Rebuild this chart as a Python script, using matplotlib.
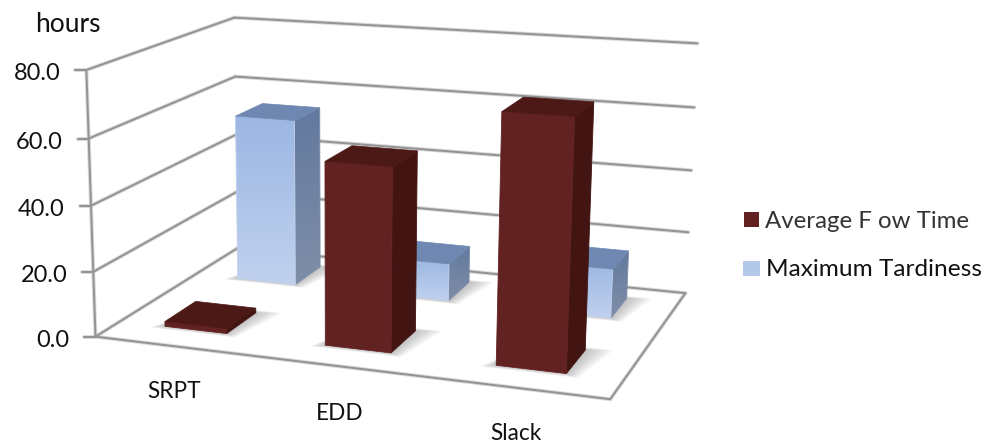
import numpy as np
import matplotlib
matplotlib.use("Agg")
import matplotlib.pyplot as plt
from matplotlib.colors import LinearSegmentedColormap
from matplotlib.patches import Polygon, Rectangle

categories = ["SRPT", "EDD", "Slack"]
flow_time = [1.5, 55.0, 73.0]
tardiness = [54.0, 12.0, 15.5]
ticks = [0, 20, 40, 60, 80]
FONT = "Lato"

# Box corners of the chart volume: (width, depth, value) -> canvas pixel
BOX = [((0, 0, 0), (97, 335)), ((0, 0, 80), (85, 70)),
       ((0, 1, 0), (236, 250)), ((0, 1, 80), (236, 17)),
       ((1, 1, 0), (686, 291)), ((1, 1, 80), (697, 44)),
       ((1, 0, 0), (610, 401))]


def fit_camera(pairs):
    rows = []
    for (x, y, z), (px, py) in pairs:
        rows.append([x, y, z, 1, 0, 0, 0, 0, -px * x, -px * y, -px * z, -px])
        rows.append([0, 0, 0, 0, x, y, z, 1, -py * x, -py * y, -py * z, -py])
    return np.linalg.svd(np.array(rows, float))[2][-1].reshape(3, 4)


CAM = fit_camera(BOX)


def proj(x, y, z):
    h = CAM @ np.array([x, y, z, 1.0])
    return h[0] / h[2], h[1] / h[2]


fig = plt.figure(figsize=(9.89, 4.47), dpi=100)
ax = fig.add_axes([0, 0, 1, 1])
ax.set_xlim(0, 989)
ax.set_ylim(447, 0)
ax.axis("off")


def grid_line(a, b, z=2):
    xs, ys = zip(a, b)
    ax.plot(xs, ys, color="#d8d8d8", lw=2.8, zorder=z, solid_capstyle="round")
    ax.plot(xs, ys, color="#939393", lw=1.4, zorder=z + 0.1, solid_capstyle="round")


# Walls and floor outline
for t in ticks:
    grid_line(proj(0, 0, t), proj(0, 1, t))
    grid_line(proj(0, 1, t), proj(1, 1, t))
    fx, fy = proj(0, 0, t)
    grid_line((fx - 11, fy), (fx, fy))
grid_line(proj(0, 0, 0), proj(0, 0, 80))
grid_line(proj(0, 0, 0), proj(1, 0, 0))
grid_line(proj(1, 0, 0), proj(1, 1, 0))


def shaded_face(quad, colours, vertical=True, z=5):
    cmap = LinearSegmentedColormap.from_list("face", colours)
    g = np.linspace(0, 1, 64)
    img = g[:, None] if vertical else g[None, :]
    xs, ys = zip(*quad)
    im = ax.imshow(img, cmap=cmap, vmin=0, vmax=1, aspect="auto", zorder=z,
                   extent=(min(xs), max(xs), max(ys), min(ys)),
                   interpolation="bilinear")
    clip = Polygon(quad, closed=True, transform=ax.transData, fc="none", ec="none")
    ax.add_patch(clip)
    im.set_clip_path(clip)
    ax.add_patch(Polygon(quad, closed=True, fc="none", ec=colours[len(colours) // 2],
                         lw=0.6, zorder=z))


def floor_shadow(x0, x1, y0, y1, z):
    # Soft contact shadow: stacked translucent quads growing past the footprint
    for k in range(7):
        g = 0.0035 * (7 - k)
        q = [proj(x0 - g, y0 - g, 0), proj(x1 + g, y0 - g, 0),
             proj(x1 + 2 * g, y1 + g, 0), proj(x0 + g, y1 + g, 0)]
        ax.add_patch(Polygon(q, closed=True, fc="#555555", ec="none", alpha=0.055, zorder=z))


def bar(cx, cy, w, d, value, front, side, top, z):
    x0, x1, y0, y1 = cx - w / 2, cx + w / 2, cy - d / 2, cy + d / 2
    floor_shadow(x0, x1, y0, y1, z - 0.5)
    shaded_face([proj(x1, y0, 0), proj(x1, y1, 0), proj(x1, y1, value), proj(x1, y0, value)],
                side, z=z)
    shaded_face([proj(x0, y0, 0), proj(x1, y0, 0), proj(x1, y0, value), proj(x0, y0, value)],
                front, z=z + 0.1)
    ax.add_patch(Polygon([proj(x0, y0, value), proj(x1, y0, value),
                          proj(x1, y1, value), proj(x0, y1, value)],
                         closed=True, fc=top, ec=top, lw=0.5, zorder=z + 0.2))


BAR_W, BAR_D = 0.131, 0.21
CENTRES = [0.162, 0.496, 0.83]
BLUE_FRONT = ["#9cb7e3", "#c0d1ee"]
BLUE_SIDE = ["#63799f", "#7f8ea8"]
RED_FRONT = ["#632222", "#632222"]
RED_SIDE = ["#421513", "#421513"]

for cx, v in zip(CENTRES, tardiness):
    bar(cx, 0.78, BAR_W, BAR_D, v, BLUE_FRONT, BLUE_SIDE, "#6f88b2", 10)
for i, (cx, v) in enumerate(zip(CENTRES, flow_time)):
    bar(cx, 0.26, BAR_W, BAR_D, v, RED_FRONT, RED_SIDE, "#4c1916", 20 + i)

# Axis text
tc = "#111111"
for t in ticks:
    fx, fy = proj(0, 0, t)
    ax.text(fx - 26, fy + 4, f"{t:.1f}", ha="right", va="center", fontsize=17, family=FONT, color=tc)
ax.text(67.5, 24, "hours", ha="center", va="center", fontsize=19, family=FONT, color=tc)
for label, xy in zip(categories, [(174, 392), (340, 413), (516, 434)]):
    ax.text(*xy, label, ha="center", va="center", fontsize=16.3, family=FONT, color=tc)

# Legend
ax.add_patch(Rectangle((744, 212), 15, 15, fc="#632222", ec="none"))
ax.add_patch(Rectangle((743, 261), 17, 15, fc="#b4c8ea", ec="none"))
ax.text(765, 222, "Average F ow Time", ha="left", va="center", fontsize=17.3,
        family=FONT, color="#333333")
ax.text(766, 269, "Maximum Tardiness", ha="left", va="center", fontsize=17.6,
        family=FONT, color=tc)

fig.savefig("out.png", dpi=100)
